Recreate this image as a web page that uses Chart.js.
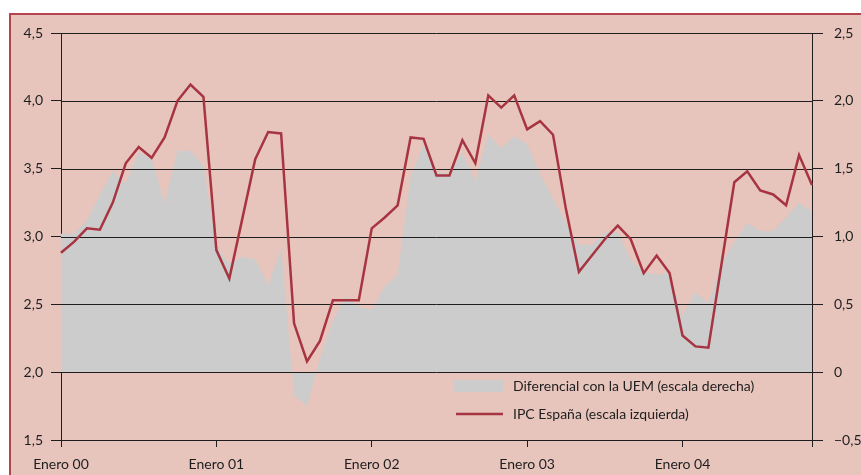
<!DOCTYPE html>
<html>
<head>
<meta charset="utf-8">
<script src="https://cdn.jsdelivr.net/npm/chart.js@4.4.1/dist/chart.umd.min.js"></script>
<style>
  html, body { margin: 0; padding: 0; background: #ffffff; }
  #wrap { position: relative; width: 861px; height: 475px; }
</style>
</head>
<body>
<div id="wrap"><canvas id="ipcChart" width="861" height="475"></canvas></div>
<script>
// Datos: IPC España y diferencial con la UEM, enero 2000 - noviembre 2004
const meses = ["Enero", "Febrero", "Marzo", "Abril", "Mayo", "Junio", "Julio", "Agosto", "Septiembre", "Octubre", "Noviembre", "Diciembre"]
const anios = ["00", "01", "02", "03", "04"]

// IPC España (escala izquierda)
const ipcEspana = [
  2.88, 2.96, 3.06, 3.05, 3.25, 3.54, 3.66, 3.58, 3.73, 4.00, 4.12, 4.03,
  2.90, 2.69, 3.13, 3.57, 3.77, 3.76, 2.36, 2.08, 2.23, 2.53, 2.53, 2.53,
  3.06, 3.14, 3.23, 3.73, 3.72, 3.45, 3.45, 3.71, 3.54, 4.04, 3.95, 4.04,
  3.79, 3.85, 3.75, 3.20, 2.74, 2.86, 2.98, 3.08, 2.98, 2.73, 2.86, 2.73,
  2.27, 2.19, 2.18, 2.79, 3.40, 3.48, 3.34, 3.31, 3.23, 3.60, 3.38,
]

// Diferencial con la UEM (escala derecha)
const diferencialUEM = [
  1.02, 1.02, 1.12, 1.31, 1.48, 1.39, 1.62, 1.57, 1.25, 1.63, 1.63, 1.52,
  0.93, 0.80, 0.85, 0.83, 0.64, 0.92, -0.17, -0.25, 0.10, 0.38, 0.56, 0.48,
  0.46, 0.63, 0.72, 1.44, 1.68, 1.48, 1.46, 1.62, 1.41, 1.75, 1.65, 1.74,
  1.68, 1.46, 1.28, 1.10, 0.94, 0.94, 1.03, 1.03, 0.83, 0.74, 0.72, 0.73,
  0.42, 0.59, 0.51, 0.80, 0.96, 1.10, 1.04, 1.04, 1.14, 1.25, 1.18,
]

const leyendaArea = "Diferencial con la UEM (escala derecha)"
const leyendaLinea = "IPC España (escala izquierda)"

const etiquetas = ipcEspana.map((_, i) => meses[i % 12] + " " + anios[Math.floor(i / 12)])

const COLOR_FONDO = "#e7c5bd"
const COLOR_MARCO = "#b4454f"
const COLOR_AREA = "#cccccc"
const COLOR_LINEA = "#a63441"
const COLOR_EJE = "#1e1e1e"
const FUENTE = "Lato"

function formatoNumero(v) {
  const r = Math.round(v * 10) / 10
  if (r === 0) return "0"
  return r.toFixed(1).replace(".", ",").replace("-", "\u2212")
}

// Fondo rosado con marco
const fondoPlugin = {
  id: "fondo",
  beforeDraw(chart) {
    const ctx = chart.ctx
    ctx.save()
    ctx.fillStyle = "#ffffff"
    ctx.fillRect(0, 0, chart.width, chart.height)
    ctx.fillStyle = COLOR_MARCO
    ctx.fillRect(9, 13, chart.width, chart.height)
    ctx.fillStyle = COLOR_FONDO
    ctx.fillRect(11, 15, chart.width, chart.height)
    ctx.restore()
  },
}

// Lineas de rejilla sobre el area gris y bajo la linea roja
const rejillaPlugin = {
  id: "rejilla",
  beforeDatasetDraw(chart, args) {
    if (args.index !== 0) return
    const ctx = chart.ctx
    const area = chart.chartArea
    const y = chart.scales.y
    ctx.save()
    ctx.strokeStyle = COLOR_EJE
    ctx.lineWidth = 1
    y.ticks.forEach((t) => {
      const py = Math.round(y.getPixelForValue(t.value)) + 0.5
      ctx.beginPath()
      ctx.moveTo(area.left, py)
      ctx.lineTo(area.right, py)
      ctx.stroke()
    })
    ctx.restore()
  },
}

// Leyenda dentro del grafico
const leyendaPlugin = {
  id: "leyenda",
  afterDraw(chart) {
    const ctx = chart.ctx
    ctx.save()
    ctx.fillStyle = COLOR_AREA
    ctx.fillRect(454, 380, 49, 12)
    ctx.strokeStyle = COLOR_LINEA
    ctx.lineWidth = 2.5
    ctx.beginPath()
    ctx.moveTo(456, 414)
    ctx.lineTo(503, 414)
    ctx.stroke()
    ctx.fillStyle = COLOR_EJE
    ctx.font = "14px " + FUENTE
    ctx.textBaseline = "middle"
    ctx.fillText(leyendaArea, 513, 386)
    ctx.fillText(leyendaLinea, 513, 414)
    ctx.restore()
  },
}

const ctx = document.getElementById("ipcChart").getContext("2d")
new Chart(ctx, {
  type: "line",
  data: {
    labels: etiquetas,
    datasets: [
      {
        label: leyendaLinea,
        data: ipcEspana,
        yAxisID: "y",
        borderColor: COLOR_LINEA,
        borderWidth: 2.5,
        pointRadius: 0,
        tension: 0,
        fill: false,
      },
      {
        label: leyendaArea,
        data: diferencialUEM,
        yAxisID: "y1",
        borderWidth: 0,
        borderColor: "rgba(0,0,0,0)",
        backgroundColor: COLOR_AREA,
        pointRadius: 0,
        tension: 0,
        fill: "origin",
      },
    ],
  },
  options: {
    responsive: false,
    animation: false,
    layout: { padding: { top: 33, left: 0, right: 0, bottom: 0 } },
    plugins: {
      legend: { display: false },
      tooltip: { enabled: false },
    },
    scales: {
      x: {
        type: "category",
        offset: false,
        afterFit(scale) {
          scale.height = 35
        },
        grid: {
          drawOnChartArea: false,
          drawTicks: true,
          tickLength: 7,
          color: (c) => (c.index % 12 === 0 || c.index === etiquetas.length - 1 ? COLOR_EJE : "rgba(0,0,0,0)"),
        },
        border: { display: true, color: COLOR_EJE, width: 1 },
        ticks: {
          autoSkip: false,
          maxRotation: 0,
          padding: 9,
          color: COLOR_EJE,
          font: { family: FUENTE, size: 14 },
          callback: (v, i) => (i % 12 === 0 ? etiquetas[i] : ""),
        },
      },
      y: {
        position: "left",
        min: 1.5,
        max: 4.5,
        afterFit(scale) {
          scale.width = 61
        },
        grid: {
          drawOnChartArea: false,
          drawTicks: true,
          tickLength: 10,
          color: COLOR_EJE,
        },
        border: { display: true, color: COLOR_EJE, width: 1 },
        ticks: {
          stepSize: 0.5,
          padding: 8,
          color: COLOR_EJE,
          font: { family: FUENTE, size: 14 },
          callback: (v) => formatoNumero(v),
        },
      },
      y1: {
        position: "right",
        min: -0.5,
        max: 2.5,
        afterFit(scale) {
          scale.width = 49
        },
        grid: {
          drawOnChartArea: false,
          drawTicks: true,
          tickLength: 11,
          color: COLOR_EJE,
        },
        border: { display: true, color: COLOR_EJE, width: 1 },
        ticks: {
          stepSize: 0.5,
          padding: 11,
          color: COLOR_EJE,
          font: { family: FUENTE, size: 14 },
          callback: (v) => formatoNumero(v),
        },
      },
    },
  },
  plugins: [fondoPlugin, rejillaPlugin, leyendaPlugin],
})
</script>
</body>
</html>
